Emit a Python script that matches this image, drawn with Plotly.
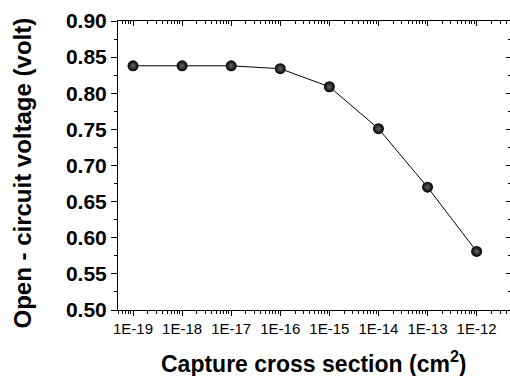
import plotly.graph_objects as go

# Data
cross_section = [1e-19, 1e-18, 1e-17, 1e-16, 1e-15, 1e-14, 1e-13, 1e-12]
voc = [0.838, 0.838, 0.838, 0.834, 0.809, 0.751, 0.670, 0.581]
x_tickvals = [1e-19, 1e-18, 1e-17, 1e-16, 1e-15, 1e-14, 1e-13, 1e-12]
x_ticktext = ["1E-19", "1E-18", "1E-17", "1E-16", "1E-15", "1E-14", "1E-13", "1E-12"]
y_tickvals = [0.50, 0.55, 0.60, 0.65, 0.70, 0.75, 0.80, 0.85, 0.90]

xr = [-19.306, -11.32]
yr = [0.50, 0.90]
font = "Liberation Sans, Arial, sans-serif"

fig = go.Figure()
fig.add_trace(go.Scatter(
    x=cross_section, y=voc, mode="lines+markers",
    line=dict(color="black", width=1),
    marker=dict(color="black", size=11,
                gradient=dict(type="radial", color="#666666")),
    showlegend=False, cliponaxis=False,
))

common = dict(showgrid=False, zeroline=False, automargin=False,
              showline=True, linecolor="black", linewidth=1)

fig.update_layout(
    width=510, height=376,
    margin=dict(l=118, r=0, t=21, b=66, autoexpand=False),
    paper_bgcolor="white", plot_bgcolor="white",
    font=dict(family=font, color="black"),
    xaxis=dict(
        type="log", range=xr,
        tickvals=x_tickvals, ticktext=x_ticktext,
        ticks="outside", ticklen=5, tickwidth=1, tickcolor="black",
        minor=dict(ticks="outside", ticklen=3, tickcolor="black", dtick="D1"),
        tickfont=dict(size=15, family=font),
        **common,
    ),
    xaxis2=dict(
        type="log", range=xr, overlaying="x", side="top",
        tickvals=x_tickvals, showticklabels=False,
        ticks="inside", ticklen=5, tickwidth=1, tickcolor="black",
        minor=dict(ticks="inside", ticklen=3, tickcolor="black", dtick="D1"),
        **common,
    ),
    yaxis=dict(
        range=yr, tickvals=y_tickvals, tickformat=".2f",
        ticks="outside", ticklen=6, tickwidth=1, tickcolor="black",
        minor=dict(ticks="outside", ticklen=3, tickcolor="black", dtick=0.025),
        tickfont=dict(size=21, family=font, weight="bold"),
        **common,
    ),
    yaxis2=dict(
        range=yr, overlaying="y", side="right",
        tickvals=y_tickvals, showticklabels=False,
        ticks="inside", ticklen=4, tickwidth=1, tickcolor="black",
        minor=dict(ticks="inside", ticklen=2, tickcolor="black", dtick=0.025),
        **common,
    ),
    annotations=[
        dict(text="<b>Capture cross section (cm<sup>2</sup>)</b>",
             xref="paper", yref="paper", x=0.5, y=0, yshift=-52,
             xanchor="center", yanchor="middle", showarrow=False,
             font=dict(size=23, family=font)),
        dict(text="<b>Open - circuit voltage (volt)</b>",
             xref="paper", yref="paper", x=0, y=0.5, xshift=-96, yshift=-8,
             xanchor="center", yanchor="middle", textangle=-90, showarrow=False,
             font=dict(size=24, family=font)),
    ],
)
# invisible trace to activate secondary axes
fig.add_trace(go.Scatter(x=[cross_section[0]], y=[voc[0]], xaxis="x2", yaxis="y2",
                         mode="markers", marker=dict(opacity=0), showlegend=False,
                         hoverinfo="skip"))
fig.write_html("out.html")
